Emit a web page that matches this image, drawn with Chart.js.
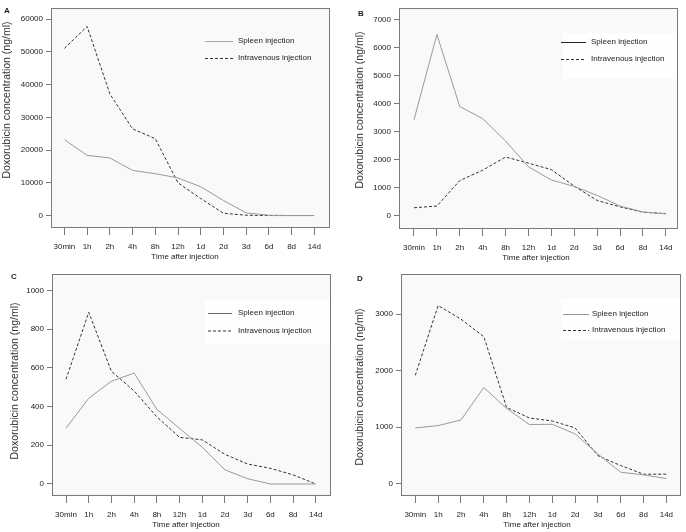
<!DOCTYPE html>
<html>
<head>
<meta charset="utf-8">
<script src="https://cdn.jsdelivr.net/npm/chart.js@4.4.0/dist/chart.umd.min.js"></script>
<style>
    html, body { margin: 0; padding: 0; background: #fff; }
    #wrap { position: relative; width: 686px; height: 532px; }
    .panel { position: absolute; width: 343px; height: 266px; }
</style>
</head>
<body>
<div id="wrap">
    <div class="panel" style="left:0;top:0"><canvas id="chartA" width="343" height="266"></canvas></div>
    <div class="panel" style="left:343px;top:0"><canvas id="chartB" width="343" height="266"></canvas></div>
    <div class="panel" style="left:0;top:266px"><canvas id="chartC" width="343" height="266"></canvas></div>
    <div class="panel" style="left:343px;top:266px"><canvas id="chartD" width="343" height="266"></canvas></div>
</div>
<script>
const timeLabels = ['30min', '1h', '2h', '4h', '8h', '12h', '1d', '2d', '3d', '6d', '8d', '14d'];

const spleenA = [23200, 18400, 17600, 13800, 12800, 11500, 8800, 4600, 800, 100, 0, 0];
const ivA = [51100, 57800, 37200, 26500, 23500, 10000, 5200, 700, 100, 0, 0, 0];
const yTicksA = [0, 10000, 20000, 30000, 40000, 50000, 60000];

const spleenB = [3430, 6470, 3900, 3470, 2670, 1750, 1280, 1050, 730, 350, 140, 70];
const ivB = [290, 350, 1260, 1630, 2100, 1880, 1650, 1060, 550, 320, 130, 80];
const yTicksB = [0, 1000, 2000, 3000, 4000, 5000, 6000, 7000];

const spleenC = [288, 443, 531, 573, 386, 287, 190, 73, 27, 0, 0, 0];
const ivC = [541, 887, 582, 481, 347, 241, 228, 153, 103, 81, 47, 0];
const yTicksC = [0, 200, 400, 600, 800, 1000];

const spleenD = [988, 1029, 1129, 1702, 1333, 1047, 1053, 883, 526, 205, 158, 94];
const ivD = [1918, 3152, 2912, 2602, 1351, 1164, 1111, 988, 497, 322, 170, 170];
const yTicksD = [0, 1000, 2000, 3000];

const FONT = "'Liberation Sans', Arial, sans-serif";

// layout per panel, canvas coordinates
const panels = [
    {
        id: 'chartA', letter: 'A', spleen: spleenA, iv: ivA, yTicks: yTicksA,
        yMin: -3500, yMax: 63500, xMin: -0.59, xMax: 11.69,
        frame: { left: 51, top: 3, right: 330, bottom: 227 },
        letterAt: [7, 11], yTitleAt: [7.5, 100], xTitleAt: [185, 257],
        legend: { x1: 205, x2: 233, tx: 238, y1: 41, y2: 58, spleenColor: '#aaaaaa', box: null }
    },
    {
        id: 'chartB', letter: 'B', spleen: spleenB, iv: ivB, yTicks: yTicksB,
        yMin: -433, yMax: 7423, xMin: -0.655, xMax: 11.53,
        frame: { left: 56, top: 5, right: 335, bottom: 228 },
        letterAt: [18, 14], yTitleAt: [17.5, 110], xTitleAt: [193, 257.5],
        legend: { x1: 218, x2: 243, tx: 248, y1: 42, y2: 59, spleenColor: '#222222', box: [220, 33, 115, 46] }
    },
    {
        id: 'chartC', letter: 'C', spleen: spleenC, iv: ivC, yTicks: yTicksC,
        yMin: -57, yMax: 1086, xMin: -0.617, xMax: 11.67,
        frame: { left: 52, top: 3, right: 331, bottom: 229 },
        letterAt: [14, 11], yTitleAt: [15, 115], xTitleAt: [186, 258.3],
        legend: { x1: 208, x2: 232, tx: 238, y1: 47, y2: 64.5, spleenColor: '#666666', box: [205, 34, 126, 44] }
    },
    {
        id: 'chartD', letter: 'D', spleen: spleenD, iv: ivD, yTicks: yTicksD,
        yMin: -198, yMax: 3714, xMin: -0.627, xMax: 11.64,
        frame: { left: 58, top: 6, right: 338, bottom: 229 },
        letterAt: [17, 12.7], yTitleAt: [16.7, 121], xTitleAt: [194, 258.7],
        legend: { x1: 220, x2: 246, tx: 249, y1: 48, y2: 64, spleenColor: '#999999', box: [218, 32, 120, 42] }
    }
];

function panelPlugin(p) {
    return {
        id: 'panelDecor' + p.letter,
        beforeDatasetsDraw(chart) {
            const { ctx, chartArea: a } = chart;
            ctx.save();
            ctx.fillStyle = '#f9f9f9';
            ctx.fillRect(a.left, a.top, a.right - a.left, a.bottom - a.top);
            if (p.legend.box) {
                const b = p.legend.box;
                ctx.fillStyle = '#fefefe';
                ctx.fillRect(b[0], b[1], b[2], b[3]);
            }
            ctx.restore();
        },
        afterDraw(chart) {
            const { ctx, chartArea: a } = chart;
            const lg = p.legend;
            ctx.save();

            // frame
            ctx.strokeStyle = '#7a7a7a';
            ctx.lineWidth = 1;
            ctx.strokeRect(Math.round(a.left) + 0.5, Math.round(a.top) + 0.5,
                Math.round(a.right - a.left) - 1, Math.round(a.bottom - a.top));

            // legend
            ctx.lineWidth = 1;
            ctx.strokeStyle = lg.spleenColor;
            ctx.beginPath();
            ctx.moveTo(lg.x1, lg.y1 + 0.5);
            ctx.lineTo(lg.x2, lg.y1 + 0.5);
            ctx.stroke();
            ctx.strokeStyle = '#333333';
            ctx.setLineDash([3, 2]);
            ctx.beginPath();
            ctx.moveTo(lg.x1, lg.y2 + 0.5);
            ctx.lineTo(lg.x2, lg.y2 + 0.5);
            ctx.stroke();
            ctx.setLineDash([]);

            ctx.fillStyle = '#222';
            ctx.font = '8px ' + FONT;
            ctx.textAlign = 'left';
            ctx.textBaseline = 'middle';
            ctx.fillText('Spleen injection', lg.tx, lg.y1);
            ctx.fillText('Intravenous injection', lg.tx, lg.y2);

            // panel letter
            ctx.font = 'bold 8px ' + FONT;
            ctx.textAlign = 'center';
            ctx.fillText(p.letter, p.letterAt[0], p.letterAt[1]);

            // axis titles
            ctx.font = '8px ' + FONT;
            ctx.fillText('Time after injection', p.xTitleAt[0], p.xTitleAt[1]);

            ctx.translate(p.yTitleAt[0], p.yTitleAt[1]);
            ctx.rotate(-Math.PI / 2);
            ctx.font = '10.5px ' + FONT;
            ctx.fillStyle = '#333';
            ctx.fillText('Doxorubicin concentration (ng/ml)', 0, 0);

            ctx.restore();
        }
    };
}

function makePanel(p) {
    const toPoints = (arr) => arr.map((v, i) => ({ x: i, y: v }));

    new Chart(document.getElementById(p.id), {
        type: 'line',
        data: {
            datasets: [
                {
                    label: 'Spleen injection',
                    data: toPoints(p.spleen),
                    borderColor: '#9a9a9a',
                    borderWidth: 1,
                    pointRadius: 0,
                    tension: 0
                },
                {
                    label: 'Intravenous injection',
                    data: toPoints(p.iv),
                    borderColor: '#333333',
                    borderWidth: 1,
                    borderDash: [3, 2],
                    pointRadius: 0,
                    tension: 0
                }
            ]
        },
        options: {
            responsive: false,
            animation: false,
            layout: {
                padding: { top: p.frame.top, right: 343 - p.frame.right, left: 0, bottom: 0 }
            },
            plugins: {
                legend: { display: false },
                tooltip: { enabled: false }
            },
            scales: {
                x: {
                    type: 'linear',
                    min: p.xMin,
                    max: p.xMax,
                    afterBuildTicks: (scale) => {
                        scale.ticks = timeLabels.map((_, i) => ({ value: i }));
                    },
                    afterFit: (scale) => {
                        scale.height = 266 - p.frame.bottom;
                    },
                    border: { display: false },
                    grid: { drawOnChartArea: false, tickLength: 8, color: '#7a7a7a' },
                    ticks: {
                        autoSkip: false,
                        maxRotation: 0,
                        padding: 7,
                        color: '#222',
                        font: { family: FONT, size: 8 },
                        callback: (value) => timeLabels[value]
                    }
                },
                y: {
                    min: p.yMin,
                    max: p.yMax,
                    afterBuildTicks: (scale) => {
                        scale.ticks = p.yTicks.map((v) => ({ value: v }));
                    },
                    afterFit: (scale) => {
                        scale.width = p.frame.left;
                    },
                    border: { display: false },
                    grid: { drawOnChartArea: false, tickLength: 5, color: '#7a7a7a' },
                    ticks: {
                        padding: 3,
                        color: '#222',
                        font: { family: FONT, size: 8 },
                        callback: (value) => String(value)
                    }
                }
            }
        },
        plugins: [panelPlugin(p)]
    });
}

panels.forEach(makePanel);
</script>
</body>
</html>
